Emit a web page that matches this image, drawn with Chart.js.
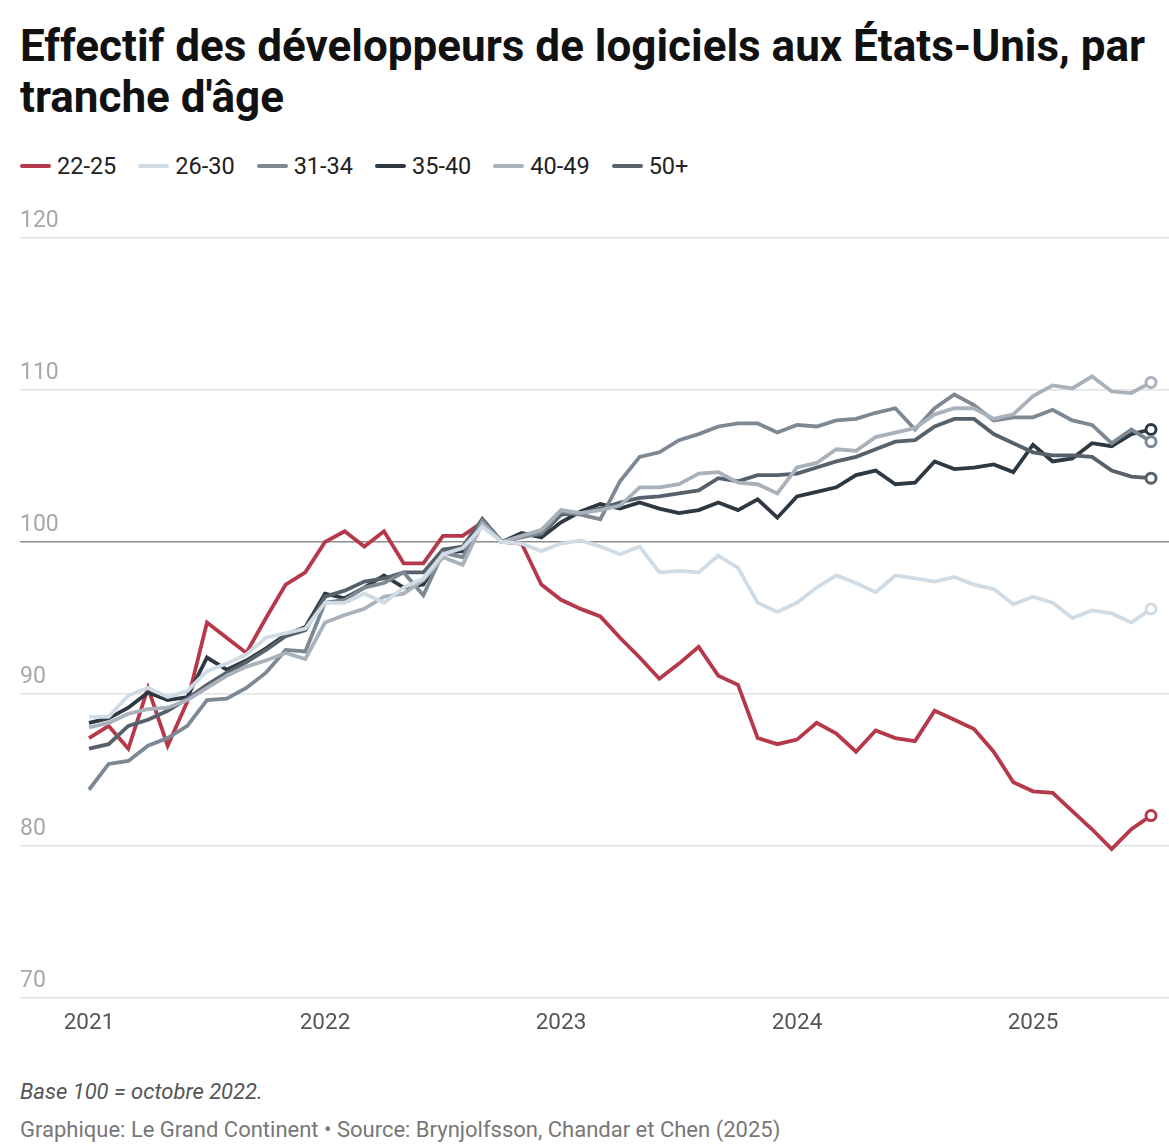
<!DOCTYPE html>
<html lang="fr">
<head>
    <meta charset="UTF-8">
    <title>Effectif des développeurs de logiciels aux États-Unis</title>
    <script src="https://cdn.jsdelivr.net/npm/chart.js"></script>
    <style>
        html, body {
            margin: 0;
            overflow: hidden;
        }
        body {
            width: 1169px;
            height: 1144px;
            position: relative;
            background: #fff;
            font-family: Roboto, "Noto Sans", sans-serif;
        }
        h1 {
            position: absolute;
            left: 20px;
            top: 21px;
            width: 1149px;
            margin: 0;
            font-size: 44px;
            line-height: 51px;
            font-weight: 700;
            color: #111;
        }
        .legend {
            position: absolute;
            left: 20px;
            top: 152px;
            display: flex;
            font-size: 23.5px;
            color: #222;
        }
        .legend-item {
            display: flex;
            align-items: center;
            margin-right: 22px;
        }
        .legend-item span.mark {
            display: inline-block;
            width: 31px;
            height: 4px;
            border-radius: 2px;
            margin-right: 6px;
        }
        .chart-box {
            position: absolute;
            left: 0;
            top: 190px;
            width: 1169px;
            height: 860px;
        }
        .note {
            position: absolute;
            left: 20px;
            top: 1079px;
            font-size: 22px;
            font-style: italic;
            color: #555;
        }
        .source {
            position: absolute;
            left: 20px;
            top: 1117px;
            font-size: 22px;
            color: #777;
        }
    </style>
</head>
<body>
    <h1>Effectif des développeurs de logiciels aux États-Unis, par tranche d'âge</h1>
    <div class="legend" id="legend"></div>
    <div class="chart-box"><canvas id="ageChart" width="1169" height="860"></canvas></div>
    <div class="note">Base 100 = octobre 2022.</div>
    <div class="source">Graphique: Le Grand Continent • Source: Brynjolfsson, Chandar et Chen (2025)</div>

    <script>
        // months Jan 2021 .. Jul 2025
        const months = [
            '2021-01', '2021-02', '2021-03', '2021-04', '2021-05', '2021-06', '2021-07', '2021-08', '2021-09', '2021-10', '2021-11', '2021-12',
            '2022-01', '2022-02', '2022-03', '2022-04', '2022-05', '2022-06', '2022-07', '2022-08', '2022-09', '2022-10', '2022-11', '2022-12',
            '2023-01', '2023-02', '2023-03', '2023-04', '2023-05', '2023-06', '2023-07', '2023-08', '2023-09', '2023-10', '2023-11', '2023-12',
            '2024-01', '2024-02', '2024-03', '2024-04', '2024-05', '2024-06', '2024-07', '2024-08', '2024-09', '2024-10', '2024-11', '2024-12',
            '2025-01', '2025-02', '2025-03', '2025-04', '2025-05', '2025-06', '2025-07'
        ];
        const yearLabels = ['2021', '2022', '2023', '2024', '2025'];
        const yTicks = [70, 80, 90, 100, 110, 120];

        const age22_25 = [87.1, 87.9, 86.4, 90.4, 86.6, 89.5, 94.7, 93.7, 92.7, 95.0, 97.2, 98.0,
            100.0, 100.7, 99.7, 100.7, 98.6, 98.6, 100.4, 100.4, 101.3, 100.0, 99.9, 97.2,
            96.2, 95.6, 95.1, 93.7, 92.4, 91.0, 92.0, 93.1, 91.2, 90.6, 87.1, 86.7,
            87.0, 88.1, 87.4, 86.2, 87.6, 87.1, 86.9, 88.9, 88.3, 87.7, 86.2, 84.2,
            83.6, 83.5, 82.3, 81.1, 79.8, 81.1, 82.0];
        const age26_30 = [88.5, 88.5, 89.9, 90.4, 89.8, 90.2, 91.5, 92.0, 92.6, 93.7, 94.0, 94.3,
            96.0, 96.0, 96.6, 96.0, 97.0, 97.6, 99.2, 99.6, 101.0, 100.0, 99.9, 99.4,
            99.9, 100.1, 99.7, 99.2, 99.7, 98.0, 98.1, 98.0, 99.1, 98.3, 96.0, 95.4,
            96.0, 97.0, 97.8, 97.3, 96.7, 97.8, 97.6, 97.4, 97.7, 97.2, 96.9, 95.9,
            96.4, 96.0, 95.0, 95.5, 95.3, 94.7, 95.6];
        const age31_34 = [83.7, 85.4, 85.6, 86.6, 87.1, 87.9, 89.6, 89.7, 90.4, 91.4, 92.9, 92.8,
            96.0, 96.2, 97.0, 97.3, 98.0, 96.5, 99.3, 99.0, 101.4, 100.0, 100.3, 100.6,
            102.0, 101.8, 101.5, 104.0, 105.6, 105.9, 106.7, 107.1, 107.6, 107.8, 107.8, 107.2,
            107.7, 107.6, 108.0, 108.1, 108.5, 108.8, 107.4, 108.8, 109.7, 109.0, 108.0, 108.2,
            108.2, 108.7, 108.0, 107.7, 106.5, 107.4, 106.6];
        const age35_40 = [88.1, 88.4, 89.1, 90.1, 89.6, 89.8, 92.4, 91.6, 92.2, 93.0, 93.9, 94.4,
            96.6, 96.3, 97.0, 97.8, 97.0, 97.2, 99.3, 99.4, 101.5, 100.0, 100.6, 100.3,
            101.3, 102.0, 102.5, 102.2, 102.6, 102.2, 101.9, 102.1, 102.6, 102.1, 102.8, 101.6,
            103.0, 103.3, 103.6, 104.4, 104.7, 103.8, 103.9, 105.3, 104.8, 104.9, 105.1, 104.6,
            106.4, 105.3, 105.5, 106.5, 106.3, 107.1, 107.4];
        const age40_49 = [87.8, 88.1, 88.7, 89.0, 89.1, 89.6, 90.4, 91.2, 91.8, 92.2, 92.7, 92.3,
            94.7, 95.2, 95.6, 96.4, 96.6, 97.5, 99.0, 98.5, 101.2, 100.0, 100.4, 100.8,
            102.1, 101.9, 102.1, 102.4, 103.6, 103.6, 103.8, 104.5, 104.6, 103.9, 103.8, 103.2,
            104.9, 105.2, 106.1, 106.0, 106.9, 107.2, 107.5, 108.4, 108.8, 108.8, 108.1, 108.4,
            109.6, 110.3, 110.1, 110.9, 109.9, 109.8, 110.5];
        const age50plus = [86.4, 86.7, 87.9, 88.3, 88.9, 89.7, 90.6, 91.4, 92.1, 92.9, 93.8, 94.2,
            96.4, 96.8, 97.4, 97.6, 98.0, 98.0, 99.5, 99.7, 101.5, 100.0, 100.4, 100.5,
            101.8, 101.9, 102.2, 102.6, 102.9, 103.0, 103.2, 103.4, 104.2, 104.0, 104.4, 104.4,
            104.5, 104.9, 105.3, 105.6, 106.1, 106.6, 106.7, 107.6, 108.1, 108.1, 107.1, 106.5,
            105.9, 105.7, 105.7, 105.6, 104.7, 104.3, 104.2];

        // legend order
        const series = [
            { label: '22-25', data: age22_25, color: '#b5394a' },
            { label: '26-30', data: age26_30, color: '#d0dce5' },
            { label: '31-34', data: age31_34, color: '#7d8893' },
            { label: '35-40', data: age35_40, color: '#2e3843' },
            { label: '40-49', data: age40_49, color: '#a9b2ba' },
            { label: '50+', data: age50plus, color: '#56616b' }
        ];
        // drawing order, last one on top
        const drawOrder = ['26-30', '40-49', '31-34', '50+', '35-40', '22-25'];

        const legend = document.getElementById('legend');
        series.forEach(s => {
            const item = document.createElement('div');
            item.className = 'legend-item';
            item.innerHTML = '<span class="mark" style="background:' + s.color + '"></span>' + s.label;
            legend.appendChild(item);
        });

        const last = months.length - 1;
        const datasets = drawOrder.map(name => {
            const s = series.find(x => x.label === name);
            return {
                label: s.label,
                data: s.data.map((v, i) => ({ x: i, y: v })),
                borderColor: s.color,
                backgroundColor: '#fff',
                borderWidth: 3.8,
                tension: 0,
                pointRadius: ctx => ctx.dataIndex === last ? 5 : 0,
                pointHoverRadius: 0,
                pointBorderWidth: 3,
                pointBorderColor: s.color,
                pointBackgroundColor: '#fff'
            };
        });

        new Chart(document.getElementById('ageChart').getContext('2d'), {
            type: 'line',
            data: { datasets: datasets },
            options: {
                responsive: false,
                animation: false,
                layout: { autoPadding: false, padding: { left: 20, right: 0, top: 48, bottom: 9 } },
                plugins: {
                    legend: { display: false },
                    tooltip: { enabled: false }
                },
                scales: {
                    x: {
                        type: 'linear',
                        min: -3.508,
                        max: 54.915,
                        grid: { display: false },
                        border: { display: false },
                        afterBuildTicks: scale => {
                            scale.ticks = yearLabels.map((y, k) => ({ value: k * 12 }));
                        },
                        ticks: {
                            autoSkip: false,
                            maxRotation: 0,
                            padding: 4,
                            color: '#555',
                            font: { family: 'Roboto', size: 22.5 },
                            callback: v => yearLabels[v / 12]
                        }
                    },
                    y: {
                        min: 70,
                        max: 120,
                        afterBuildTicks: scale => {
                            scale.ticks = yTicks.map(v => ({ value: v }));
                        },
                        border: { display: false },
                        grid: {
                            drawTicks: false,
                            lineWidth: 1.6,
                            color: ctx => ctx.tick && ctx.tick.value === 100 ? '#8c8c8c' : '#e2e2e2'
                        },
                        ticks: {
                            mirror: true,
                            padding: 0,
                            labelOffset: -17,
                            color: '#a8a8a8',
                            font: { family: 'Roboto', size: 23 }
                        }
                    }
                }
            }
        });
    </script>
</body>
</html>
